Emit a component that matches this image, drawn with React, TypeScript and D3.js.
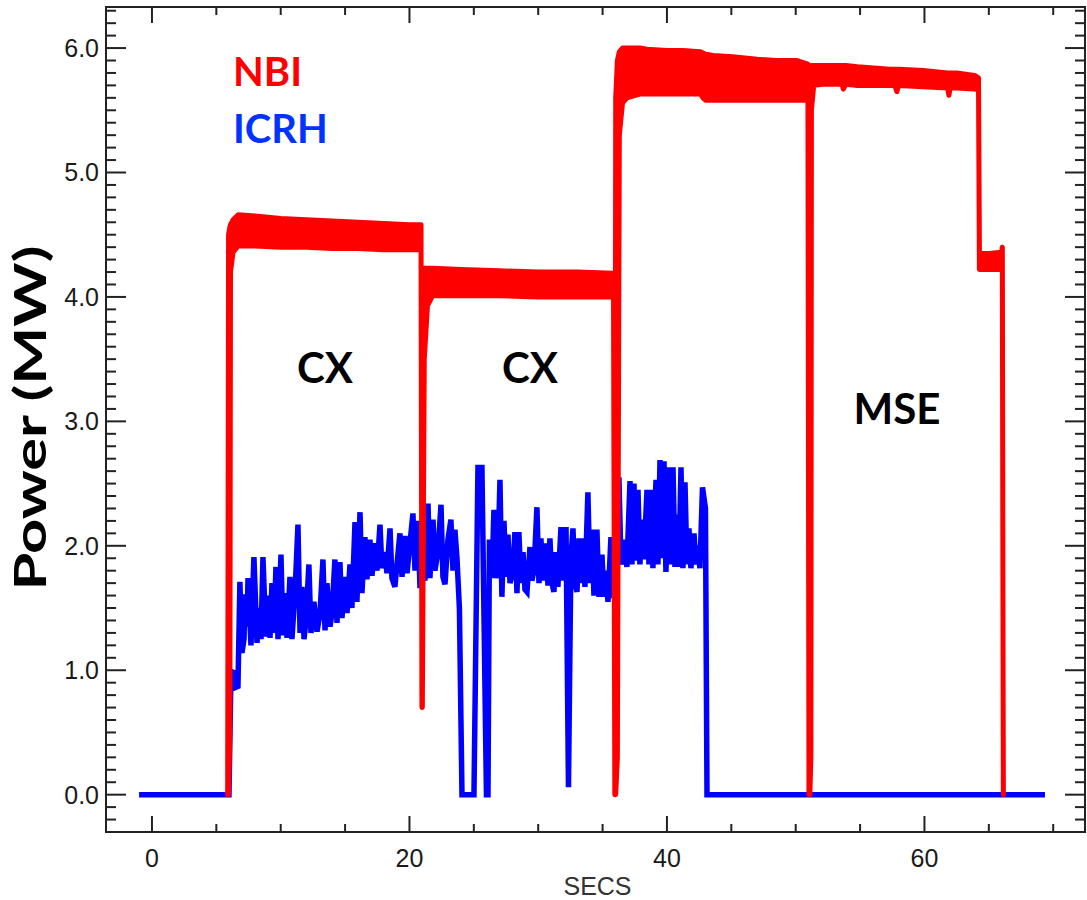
import React from 'react';
import * as d3 from 'd3';

// ICRH power (MW) vs time (s)
const icrhTime = [
  -1.0, 5.98, 6.14, 6.37, 6.45, 6.68, 6.83, 6.99, 7.15, 7.22, 7.38, 7.46, 7.69, 7.92, 8.16, 8.31, 8.47, 8.62,
  8.85, 9.01, 9.17, 9.32, 9.48, 9.63, 9.79, 10.02, 10.17, 10.33, 10.49, 10.72, 10.87, 11.11, 11.34, 11.5,
  11.65, 11.81, 11.96, 12.19, 12.35, 12.58, 12.82, 13.05, 13.28, 13.44, 13.59, 13.83, 13.98, 14.21, 14.37,
  14.6, 14.76, 14.99, 15.15, 15.38, 15.53, 15.77, 15.92, 16.16, 16.31, 16.54, 16.7, 16.93, 17.09, 17.32,
  17.48, 17.71, 17.86, 18.1, 18.25, 18.49, 18.64, 18.87, 19.03, 19.26, 19.42, 19.65, 19.81, 20.04, 20.27,
  20.43, 20.66, 20.82, 21.05, 21.2, 21.44, 21.59, 21.83, 21.98, 22.21, 22.45, 22.6, 22.76, 22.99, 23.22,
  23.38, 23.53, 23.69, 23.88, 24.08, 25.01, 25.32, 25.63, 25.98, 26.1, 26.21, 26.41, 26.56, 26.72, 26.87,
  27.03, 27.18, 27.34, 27.5, 27.65, 27.81, 28.04, 28.19, 28.35, 28.5, 28.66, 28.82, 28.97, 29.13, 29.36,
  29.51, 29.67, 29.9, 30.06, 30.21, 30.37, 30.6, 30.76, 30.91, 31.07, 31.22, 31.38, 31.53, 31.77, 31.92,
  32.16, 32.35, 32.54, 32.7, 32.85, 33.01, 33.17, 33.32, 33.48, 33.63, 33.86, 34.02, 34.17, 34.33, 34.56,
  34.72, 34.95, 35.11, 35.26, 35.42, 35.65, 35.81, 35.96, 36.12, 36.27, 36.43, 36.58, 36.74, 36.89, 37.13,
  37.28, 37.44, 37.59, 37.75, 37.9, 38.06, 38.21, 38.45, 38.6, 38.76, 38.91, 39.15, 39.3, 39.46, 39.61,
  39.77, 39.92, 40.16, 40.31, 40.47, 40.62, 40.78, 40.93, 41.09, 41.24, 41.4, 41.55, 41.71, 41.86, 42.1,
  42.25, 42.41, 42.56, 42.76, 42.99, 43.11, 69.36,
];
const icrhPower = [
  0, 0, 0.99, 0.98, 0.86, 0.87, 1.71, 1.14, 1.25, 1.61, 1.35, 1.74, 1.2, 1.91, 1.22, 1.5, 1.25, 1.91,
  1.27, 1.6, 1.26, 1.7, 1.3, 1.83, 1.25, 1.93, 1.28, 1.62, 1.26, 1.75, 1.25, 1.62, 2.17, 1.3,
  1.67, 1.25, 1.4, 1.85, 1.3, 1.55, 1.31, 1.45, 1.89, 1.32, 1.7, 1.35, 1.46, 1.89, 1.38,
  1.87, 1.42, 1.75, 1.46, 1.85, 1.5, 2.19, 1.55, 2.27, 1.62, 2.07, 1.73, 2.05, 1.76, 2.02,
  1.8, 2.17, 1.82, 1.95, 1.78, 2.14, 1.74, 1.67, 1.85, 2.1, 1.75, 2.08, 1.78, 2.02, 2.26,
  1.8, 2.2, 1.66, 1.95, 1.72, 2.34, 1.74, 2.21, 1.8, 1.95, 2.33, 1.75, 1.69, 2.05, 2.21,
  1.8, 2.13, 1.9, 1.5, 0, 0, 2.63, 2.63, 0, 0, 2.05, 1.74, 2.29, 1.74, 1.9,
  2.53, 1.59, 2.2, 1.75, 2.09, 1.7, 1.8, 2.11, 1.62, 2.11, 1.7, 1.95, 1.65, 1.63, 1.99,
  1.72, 1.8, 2.31, 1.7, 2.06, 1.72, 2.02, 1.68, 2.06, 1.7, 1.63, 1.95, 1.67, 2.15, 1.72,
  2.15, 0.06, 1.9, 2.14, 1.7, 1.63, 2.06, 1.7, 2.06, 1.67, 2.43, 1.7, 2.13, 1.6, 2.13,
  1.59, 1.93, 1.59, 1.8, 1.55, 2.07, 1.58, 1.72, 1.75, 2.55, 1.85, 1.95, 2.05, 1.83, 2.52,
  1.85, 2.5, 1.88, 2.45, 1.85, 2.21, 1.89, 2.45, 1.85, 2.45, 1.82, 2.53, 1.85, 2.69, 1.9,
  2.68, 1.79, 2.63, 1.85, 2.63, 1.83, 2.25, 1.83, 2.63, 1.82, 2.51, 1.85, 2.14, 1.82, 2.1,
  1.85, 2.0, 1.82, 2.47, 2.3, 0, 0,
];

// NBI power: fast modulation drawn as its band (low / high edge)
const nbiTime = [
  5.88, 5.95, 6.05, 6.1, 6.3, 6.7, 8, 10, 12, 14, 16, 18, 20, 20.9, 20.97, 21.0, 21.15, 21.4, 21.8, 24, 27,
  30, 33, 35.85, 35.95, 36.02, 36.15, 36.3, 36.55, 36.9, 37.9, 38.45, 40.0, 41.2, 42.6, 42.8, 43.0, 43.6,
  45.1, 47.0, 48.5, 50.1, 50.95, 51.03, 51.1, 51.18, 51.22, 51.4, 52.1, 53.4, 53.6, 53.7, 53.9, 54.8, 57.3,
  57.7, 57.86, 58.0, 59.9, 61.8, 61.9, 62.0, 62.5, 63.9, 64.2, 64.27, 65.0, 66.0, 66.05, 66.1, 66.13,
];
const nbiHigh = [
  0, 4.5, 4.56, 4.58, 4.62, 4.66, 4.65, 4.63, 4.62, 4.61, 4.6, 4.59, 4.58, 4.58, 0.7, 4.2, 4.23, 4.23, 4.23, 4.22, 4.21,
  4.2, 4.2, 4.19, 0, 5.6, 5.9, 5.97, 6.0, 6.0, 6.0, 5.99, 5.98, 5.98, 5.97, 5.96, 5.95, 5.94,
  5.93, 5.91, 5.9, 5.9, 5.87, 0, 5.7, 5.84, 5.86, 5.86, 5.86, 5.86, 5.86, 5.86, 5.86, 5.85, 5.83,
  5.83, 5.83, 5.83, 5.82, 5.8, 5.8, 5.8, 5.8, 5.78, 5.76, 4.36, 4.35, 4.36, 4.4, 1.4, 0,
];
const nbiLow = [
  0, 0, 0.5, 4.2, 4.36, 4.41, 4.41, 4.4, 4.4, 4.39, 4.39, 4.38, 4.38, 4.38, 0.7, 0.7, 3.5, 3.93, 4.01, 4.01, 4.01,
  4.0, 4.0, 4.0, 0, 0, 0.3, 5.3, 5.56, 5.6, 5.63, 5.63, 5.63, 5.63, 5.63, 5.6, 5.58, 5.58,
  5.58, 5.58, 5.58, 5.58, 5.58, 0, 0, 0.3, 5.5, 5.7, 5.71, 5.71, 5.71, 5.67, 5.71, 5.7, 5.7,
  5.7, 5.65, 5.7, 5.69, 5.68, 5.62, 5.68, 5.68, 5.67, 5.67, 4.22, 4.22, 4.22, 4.22, 1.4, 0,
];

const xMajorTicks = [0, 20, 40, 60];
const yMajorTicks = [0, 1, 2, 3, 4, 5, 6];
const annotations = [
  { text: 'CX', t: 13.44, p: 3.31 },
  { text: 'CX', t: 29.36, p: 3.31 },
  { text: 'MSE', t: 57.86, p: 2.98 },
];

const W = 1087;
const H = 900;
const left = 106, right = 1085, top = 7, bottom = 832;

const App = () => {
  const x = d3.scaleLinear().domain([-3.57, 72.47]).range([left, right]);
  const y = d3.scaleLinear().domain([-0.3, 6.33]).range([bottom, top]);

  const nbiArea = d3.area<number>()
    .x(i => x(nbiTime[i]))
    .y0(i => y(nbiLow[i]))
    .y1(i => y(nbiHigh[i]));
  const icrhLine = d3.line<number>()
    .x(i => x(icrhTime[i]))
    .y(i => y(icrhPower[i]));

  const xMinor = d3.range(0, 75, 5).filter(v => x(v) > left && x(v) < right && !xMajorTicks.includes(v));
  const yMinor = d3.range(-2, 64).map(v => v / 10).filter(v => Math.round(v * 10) % 10 !== 0);

  const axisColor = '#222';
  const tickFont = '"Liberation Sans", Arial, Helvetica, sans-serif';
  const boldFont = 'Lato, "Open Sans", sans-serif';

  return (
    <div style={{ position: 'absolute', left: 0, top: 0 }}>
      <svg width={W} height={H} style={{ display: 'block', background: '#fff' }}>
        {/* ticks on all four sides, pointing inward */}
        <g stroke={axisColor} strokeWidth={2}>
          {yMajorTicks.map(v => (
            <g key={'ym' + v}>
              <line x1={left} x2={left + 20} y1={y(v)} y2={y(v)} />
              <line x1={right} x2={right - 20} y1={y(v)} y2={y(v)} />
            </g>
          ))}
          {yMinor.map(v => (
            <g key={'yn' + v}>
              <line x1={left} x2={left + 10} y1={y(v)} y2={y(v)} />
              <line x1={right} x2={right - 10} y1={y(v)} y2={y(v)} />
            </g>
          ))}
          {xMajorTicks.map(v => (
            <g key={'xm' + v}>
              <line x1={x(v)} x2={x(v)} y1={bottom} y2={bottom - 16} />
              <line x1={x(v)} x2={x(v)} y1={top} y2={top + 16} />
            </g>
          ))}
          {xMinor.map(v => (
            <g key={'xn' + v}>
              <line x1={x(v)} x2={x(v)} y1={bottom} y2={bottom - 8} />
              <line x1={x(v)} x2={x(v)} y1={top} y2={top + 8} />
            </g>
          ))}
        </g>
        <rect x={left} y={top} width={right - left} height={bottom - top} fill="none" stroke={axisColor} strokeWidth={2} />

        {/* tick labels */}
        <g fontFamily={tickFont} fontSize={25} fill="#1a1a1a">
          {yMajorTicks.map(v => (
            <text key={'yl' + v} x={left - 7} y={y(v) + 9} textAnchor="end">{v.toFixed(1)}</text>
          ))}
          {xMajorTicks.map(v => (
            <text key={'xl' + v} x={x(v)} y={867} textAnchor="middle">{v}</text>
          ))}
          <text x={(left + right) / 2 + 2} y={895} textAnchor="middle" fill="#333">SECS</text>
        </g>

        <text
          transform={`translate(46, 418) rotate(-90)`}
          textAnchor="middle"
          fontFamily={boldFont}
          fontWeight="bold"
          fontSize={43}
          textLength={345}
          lengthAdjust="spacingAndGlyphs"
          fill="#000"
        >
          Power (MW)
        </text>

        {/* traces */}
        <path d={icrhLine(d3.range(icrhTime.length)) || ''} fill="none" stroke="#0000ff" strokeWidth={5.5} />
        <path d={nbiArea(d3.range(nbiTime.length)) || ''} fill="#ff0000" stroke="#ff0000" strokeWidth={5} strokeLinejoin="round" />

        {/* labels */}
        <g fontFamily={boldFont} fontWeight="bold">
          <text x={233} y={86} fontSize={40} fill="#ff0000">NBI</text>
          <text x={233} y={143} fontSize={40} fill="#0033ff">ICRH</text>
          {annotations.map((a, i) => (
            <text key={i} x={x(a.t)} y={y(a.p)} fontSize={42} textAnchor="middle" fill="#000">{a.text}</text>
          ))}
        </g>
      </svg>
    </div>
  );
};

export default App;
